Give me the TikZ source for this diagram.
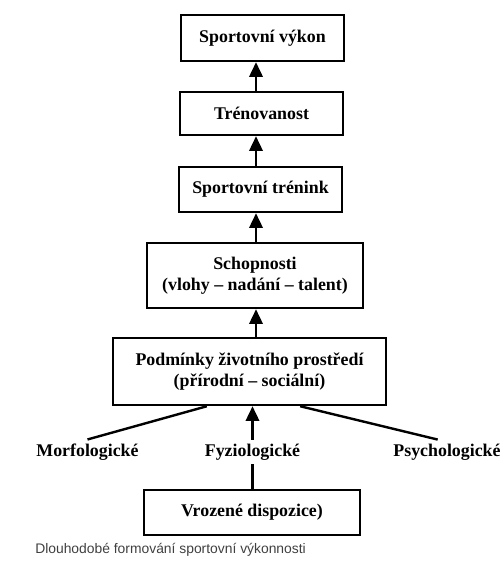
\documentclass[tikz,border=0pt]{standalone}
\usepackage{fontspec}
\setmainfont{Liberation Serif}
\setsansfont{Liberation Sans}
\usetikzlibrary{arrows.meta}
\tikzset{
    stage/.style  = {draw, line width=1.8pt, font=\bfseries\fontsize{13.4}{16}\selectfont,
                     align=center, inner sep=2pt},
    factor/.style = {font=\bfseries\fontsize{13.4}{16}\selectfont, inner sep=3pt},
    link/.style   = {line width=1.8pt},
    up/.style     = {link, -{Triangle[width=10pt,length=11pt]}}
}
\begin{document}
\begin{tikzpicture}[x=0.75pt, y=-0.75pt]
        \useasboundingbox (0,0) rectangle (503,566);
        \node [stage, minimum width=122pt, minimum height=34.5pt]  (vykon)  at (262.5,38)   {Sportovní výkon};
        \node [stage, minimum width=122pt, minimum height=32.3pt]  (trenovanost) at (261.5,113.5) {Trénovanost};
        \node [stage, minimum width=122pt, minimum height=33.8pt]  (trenink) at (260.5,189.5) {Sportovní trénink};
        \node [stage, minimum width=162pt, minimum height=48.8pt]  (schop)  at (255,275.5)  {Schopnosti\\(vlohy -- nadání -- talent)};
        \node [stage, minimum width=204.8pt, minimum height=50.3pt] (podm)  at (249.5,371.5) {Podmínky životního prostředí\\(přírodní -- sociální)};
        \node [factor]                                             (morf)   at (87.5,452)   {Morfologické};
        \node [factor]                                             (fyz)    at (252.5,452)  {Fyziologické};
        \node [factor]                                             (psych)  at (447,452)    {Psychologické};
        \node [stage, minimum width=162pt, minimum height=33.8pt]  (vroz)   at (252,512.5)  {Vrozené dispozice)};
        \node [anchor=west, font=\sffamily\fontsize{10.4}{12}\selectfont, text=black!75, inner sep=0pt]
                                                                   (caption) at (35,550)    {Dlouhodobé formování sportovní výkonnosti};
        \coordinate (axis) at (256,0);
        \path[up] (trenovanost.north -| axis) edge (vykon.south -| axis);
        \path[up] (trenink.north -| axis)     edge (trenovanost.south -| axis);
        \path[up] (schop.north -| axis)       edge (trenink.south -| axis);
        \path[up] (podm.north -| axis)        edge (schop.south -| axis);
        \path[up] (fyz.north)                 edge (fyz.north |- podm.south);
        \path[link] (morf.north)              edge ([xshift=-32pt]podm.south);
        \path[link] ([xshift=-7pt]psych.north) edge ([xshift=38pt]podm.south);
        \path[link] (vroz.north -| fyz)       edge (fyz.south);
    \end{tikzpicture}
\end{document}
